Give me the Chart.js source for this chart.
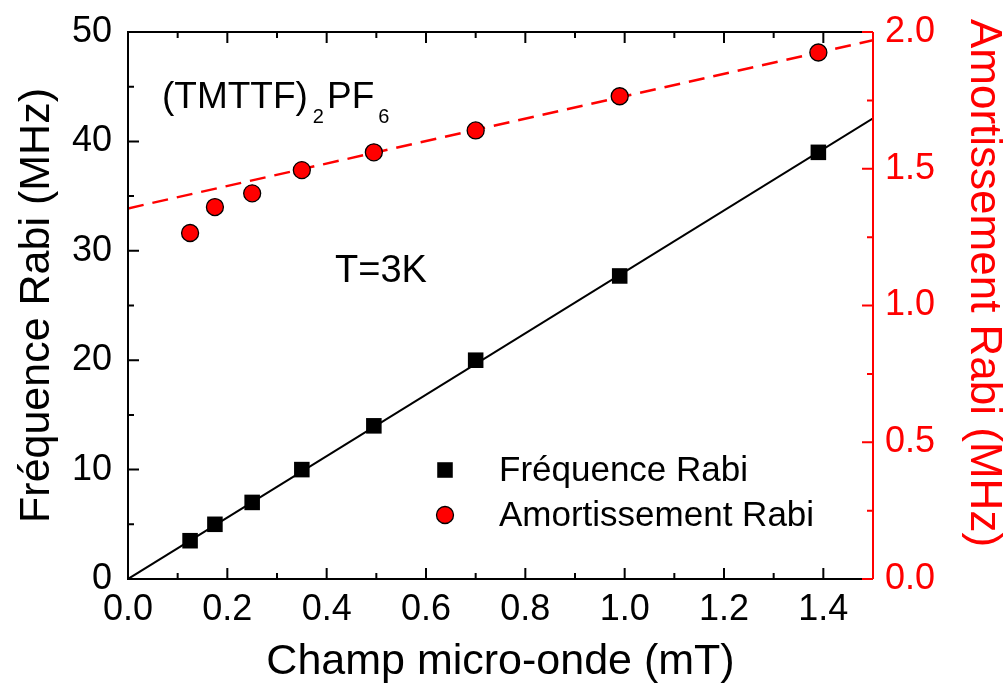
<!DOCTYPE html>
<html>
<head>
<meta charset="utf-8">
<script src="https://cdn.jsdelivr.net/npm/chart.js@4.4.1/dist/chart.umd.min.js"></script>
<style>
  html, body { margin: 0; padding: 0; background: #fff; }
  #wrap { width: 1003px; height: 693px; }
</style>
</head>
<body>
<div id="wrap"><canvas id="rabiChart"></canvas></div>
<script>
// data
const champ = [0.125, 0.175, 0.25, 0.35, 0.495, 0.70, 0.99, 1.39];
const frequence = [3.5, 5.0, 7.0, 10.0, 14.0, 20.0, 27.7, 39.0];
const amortissement = [1.265, 1.36, 1.41, 1.495, 1.56, 1.64, 1.765, 1.925];
const fitChamp = [0, 1.5];
const fitFrequence = [0, 42.1];
const fitAmortissement = [1.355, 1.97];

const RED = '#ff0000';
const FONT = '"Liberation Sans", Arial, sans-serif';

function pts(xs, ys) {
    return xs.map((x, i) => ({ x: x, y: ys[i] }));
}

// inward ticks, frame, annotations and legend
const decorPlugin = {
    id: 'decor',
    afterDraw(chart) {
        const ctx = chart.ctx;
        const a = chart.chartArea;
        const sx = chart.scales.x, sy = chart.scales.y, sr = chart.scales.y1;

        function minors(scale) {
            const v = scale.ticks.map(t => t.value);
            const out = [];
            for (let i = 0; i < v.length - 1; i++) out.push((v[i] + v[i + 1]) / 2);
            const last = v[v.length - 1] + (v[1] - v[0]) / 2;
            if (last < scale.max) out.push(last);
            return out;
        }

        ctx.save();
        ctx.lineWidth = 2;
        // x ticks, bottom and top
        ctx.strokeStyle = '#000';
        ctx.beginPath();
        sx.ticks.forEach(t => {
            const p = sx.getPixelForValue(t.value);
            ctx.moveTo(p, a.bottom); ctx.lineTo(p, a.bottom - 11);
            ctx.moveTo(p, a.top); ctx.lineTo(p, a.top + 11);
        });
        minors(sx).forEach(v => {
            const p = sx.getPixelForValue(v);
            ctx.moveTo(p, a.bottom); ctx.lineTo(p, a.bottom - 6);
            ctx.moveTo(p, a.top); ctx.lineTo(p, a.top + 6);
        });
        // left ticks
        sy.ticks.forEach(t => {
            const p = sy.getPixelForValue(t.value);
            ctx.moveTo(a.left, p); ctx.lineTo(a.left + 11, p);
        });
        minors(sy).forEach(v => {
            const p = sy.getPixelForValue(v);
            ctx.moveTo(a.left, p); ctx.lineTo(a.left + 6, p);
        });
        ctx.stroke();

        // frame
        ctx.beginPath();
        ctx.moveTo(a.right, a.top); ctx.lineTo(a.left, a.top);
        ctx.lineTo(a.left, a.bottom); ctx.lineTo(a.right, a.bottom);
        ctx.stroke();

        // right axis in red
        ctx.strokeStyle = RED;
        ctx.beginPath();
        ctx.moveTo(a.right, a.top); ctx.lineTo(a.right, a.bottom);
        sr.ticks.forEach(t => {
            const p = sr.getPixelForValue(t.value);
            ctx.moveTo(a.right, p); ctx.lineTo(a.right - 11, p);
        });
        minors(sr).forEach(v => {
            const p = sr.getPixelForValue(v);
            ctx.moveTo(a.right, p); ctx.lineTo(a.right - 6, p);
        });
        ctx.stroke();

        // right axis title
        ctx.save();
        ctx.translate(983, 283);
        ctx.rotate(Math.PI / 2);
        ctx.fillStyle = RED;
        ctx.font = '44px ' + FONT;
        ctx.textAlign = 'center';
        ctx.textBaseline = 'middle';
        ctx.fillText('Amortissement Rabi (MHz)', 0, 0);
        ctx.restore();

        // compound label with subscripts
        ctx.fillStyle = '#000';
        ctx.textAlign = 'left';
        ctx.textBaseline = 'alphabetic';
        let x = 162;
        [['(TMTTF)', 37, 108, 5], ['2', 20, 123, 3], ['PF', 37, 108, 4], ['6', 20, 123, 0]].forEach(s => {
            ctx.font = s[1] + 'px ' + FONT;
            ctx.fillText(s[0], x, s[2]);
            x += ctx.measureText(s[0]).width + s[3];
        });
        ctx.font = '38px ' + FONT;
        ctx.fillText('T=3K', 335, 282);

        // legend
        const ds = chart.data.datasets;
        ctx.font = '35px ' + FONT;
        ctx.textBaseline = 'middle';
        [[ds[0], 470], [ds[1], 515]].forEach(([d, y]) => {
            ctx.fillStyle = d.backgroundColor;
            ctx.strokeStyle = d.borderColor;
            ctx.lineWidth = d.pointBorderWidth;
            ctx.beginPath();
            if (d.pointStyle === 'rect') {
                const h = d.pointRadius * Math.SQRT1_2;
                ctx.rect(445 - h, y - h, 2 * h, 2 * h);
            } else {
                ctx.arc(445, y, d.pointRadius, 0, Math.PI * 2);
            }
            ctx.fill();
            if (d.pointBorderWidth) ctx.stroke();
            ctx.fillStyle = '#000';
            ctx.fillText(d.label, 499, y + 1);
        });
        ctx.restore();
    }
};

const ctx = document.getElementById('rabiChart').getContext('2d');
const rabiChart = new Chart(ctx, {
    type: 'scatter',
    data: {
        datasets: [{
            label: 'Fréquence Rabi',
            data: pts(champ, frequence),
            yAxisID: 'y',
            pointStyle: 'rect',
            pointRadius: 11,
            pointBorderWidth: 0,
            backgroundColor: '#000',
            borderColor: '#000',
            order: 0
        }, {
            label: 'Amortissement Rabi',
            data: pts(champ, amortissement),
            yAxisID: 'y1',
            pointStyle: 'circle',
            pointRadius: 8.5,
            pointBorderWidth: 1.3,
            backgroundColor: RED,
            borderColor: '#000',
            order: 0
        }, {
            label: 'fit frequence',
            type: 'line',
            data: pts(fitChamp, fitFrequence),
            yAxisID: 'y',
            borderColor: '#000',
            borderWidth: 2,
            pointRadius: 0,
            fill: false,
            order: 1
        }, {
            label: 'fit amortissement',
            type: 'line',
            data: pts(fitChamp, fitAmortissement),
            yAxisID: 'y1',
            borderColor: RED,
            borderWidth: 2.5,
            borderDash: [16, 9],
            pointRadius: 0,
            fill: false,
            order: 1
        }]
    },
    options: {
        responsive: true,
        maintainAspectRatio: false,
        animation: false,
        layout: { padding: { top: 32, left: 0, right: 0, bottom: 0 } },
        plugins: {
            legend: { display: false },
            tooltip: { enabled: false }
        },
        scales: {
            x: {
                type: 'linear',
                min: 0,
                max: 1.5,
                afterFit: s => { s.height = 114; s.paddingLeft = 0; s.paddingRight = 0; },
                grid: { display: false, drawTicks: false },
                border: { display: false },
                ticks: {
                    stepSize: 0.2,
                    includeBounds: false,
                    autoSkip: false,
                    maxRotation: 0,
                    padding: 9,
                    color: '#000',
                    font: { family: FONT, size: 36 },
                    callback: v => v.toFixed(1)
                },
                title: {
                    display: true,
                    text: 'Champ micro-onde (mT)',
                    color: '#000',
                    font: { family: FONT, size: 43 },
                    padding: { top: 0, bottom: 5 }
                }
            },
            y: {
                type: 'linear',
                position: 'left',
                min: 0,
                max: 50,
                afterFit: s => { s.width = 128; s.paddingTop = 0; s.paddingBottom = 0; },
                grid: { display: false, drawTicks: false },
                border: { display: false },
                ticks: {
                    stepSize: 10,
                    autoSkip: false,
                    padding: 16,
                    color: '#000',
                    font: { family: FONT, size: 36 }
                },
                title: {
                    display: true,
                    text: 'Fréquence Rabi (MHz)',
                    color: '#000',
                    font: { family: FONT, size: 43 },
                    padding: { top: 11, bottom: 0 }
                }
            },
            y1: {
                type: 'linear',
                position: 'right',
                min: 0,
                max: 2,
                afterFit: s => { s.width = 130; s.paddingTop = 0; s.paddingBottom = 0; },
                grid: { display: false, drawTicks: false },
                border: { display: false },
                ticks: {
                    stepSize: 0.5,
                    autoSkip: false,
                    padding: 12,
                    color: RED,
                    font: { family: FONT, size: 36 },
                    callback: v => v.toFixed(1)
                }
            }
        }
    },
    plugins: [decorPlugin]
});
</script>
</body>
</html>
